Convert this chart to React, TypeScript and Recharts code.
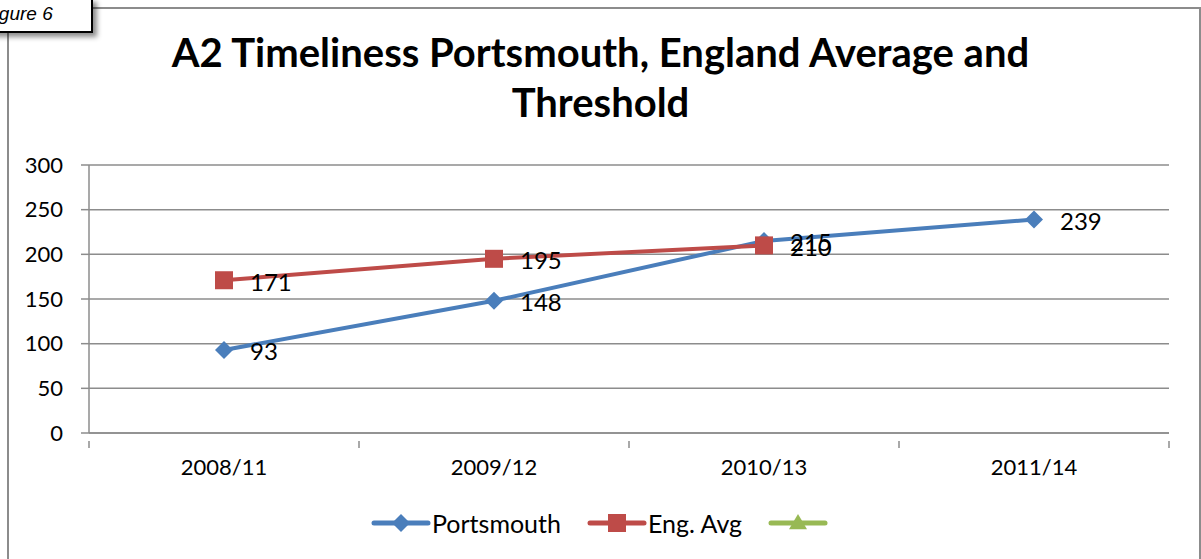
import type { FC } from "react";
import {
  LineChart,
  Line,
  XAxis,
  YAxis,
  CartesianGrid,
  Legend,
  LabelList,
} from "recharts";

const years = ["2008/11", "2009/12", "2010/13", "2011/14"];
const portsmouth = [93, 148, 215, 239];
const engAvg: (number | null)[] = [171, 195, 210, null];
const threshold: (number | null)[] = [null, null, null, null];
const yTicks = [0, 50, 100, 150, 200, 250, 300];

const BLUE = "#4A7EBB";
const RED = "#BE4B48";
const GREEN = "#98B954";
const GRID = "#8c8c8c";
const FONT = "Lato, 'Open Sans', sans-serif";

const data = years.map((year, i) => ({
  year,
  portsmouth: portsmouth[i],
  engAvg: engAvg[i],
  threshold: threshold[i],
}));

const Diamond: FC<any> = ({ cx, cy, r = 9, fill }) =>
  cx == null || cy == null ? null : (
    <path
      d={`M${cx},${cy - r} L${cx + r},${cy} L${cx},${cy + r} L${cx - r},${cy} Z`}
      fill={fill}
    />
  );

const Square: FC<any> = ({ cx, cy, r = 9, fill }) =>
  cx == null || cy == null ? null : (
    <rect x={cx - r} y={cy - r} width={r * 2} height={r * 2} fill={fill} />
  );

const Triangle: FC<any> = ({ cx, cy, r = 9, fill }) => (
  <path d={`M${cx},${cy - r} L${cx + r},${cy + r * 0.7} L${cx - r},${cy + r * 0.7} Z`} fill={fill} />
);

const ValueLabel: FC<any> = ({ x, y, value }) =>
  value == null ? null : (
    <text x={x + 26} y={y + 1} fontSize={24} fontFamily={FONT} fill="#000" dominantBaseline="central">
      {value}
    </text>
  );

// category label plus the band-boundary tick marks Excel draws between categories
const YearTick: FC<any> = ({ x, y, payload, index, visibleTicksCount }) => {
  const half = payload.offset ?? 0;
  const last = index === visibleTicksCount - 1;
  return (
    <g>
      <line x1={x - half} y1={y} x2={x - half} y2={y + 7} stroke={GRID} strokeWidth={1.5} />
      {last && <line x1={x + half} y1={y} x2={x + half} y2={y + 7} stroke={GRID} strokeWidth={1.5} />}
      <text x={x} y={y + 34} textAnchor="middle" fontSize={22} fontFamily={FONT} fill="#000">
        {payload.value}
      </text>
    </g>
  );
};

const legendItems = [
  { name: "Portsmouth", color: BLUE, Marker: Diamond },
  { name: "Eng. Avg", color: RED, Marker: Square },
  { name: "", color: GREEN, Marker: Triangle },
];

const LegendContent: FC = () => (
  <div style={{ display: "flex", justifyContent: "center", alignItems: "center", fontFamily: FONT, fontSize: 25, paddingLeft: 24 }}>
    {legendItems.map(({ name, color, Marker }) => (
      <div key={color} style={{ display: "flex", alignItems: "center", marginRight: 26 }}>
        <svg width={60} height={24}>
          <line x1={3} y1={12} x2={57} y2={12} stroke={color} strokeWidth={5} strokeLinecap="round" />
          <Marker cx={30} cy={12} r={9} fill={color} />
        </svg>
        {name && <span style={{ marginLeft: 1 }}>{name}</span>}
      </div>
    ))}
  </div>
);

export default function App() {
  return (
    <div style={{ position: "fixed", left: 0, top: 0, width: 1201, height: 559, overflow: "hidden", background: "#fff" }}>
      <div style={{ position: "absolute", left: 7, top: 7, width: 1190, height: 560, border: "2px solid #8c8c8c" }} />
      <div
        style={{
          position: "absolute",
          left: 0,
          top: 27,
          width: 1201,
          textAlign: "center",
          fontFamily: FONT,
          fontWeight: 700,
          fontSize: 40,
          lineHeight: "50px",
          color: "#000",
        }}
      >
        A2 Timeliness Portsmouth, England Average and
        <br />
        Threshold
      </div>
      <div style={{ position: "absolute", left: 0, top: 0 }}>
        <LineChart width={1201} height={559} data={data} margin={{ top: 165, right: 32, left: 0, bottom: 0 }}>
          <CartesianGrid vertical={false} stroke={GRID} strokeWidth={1.5} />
          <XAxis
            dataKey="year"
            scale="band"
            height={126}
            axisLine={{ stroke: GRID, strokeWidth: 1.5 }}
            tickLine={false}
            interval={0}
            tick={<YearTick />}
          />
          <YAxis
            width={89}
            domain={[0, 300]}
            ticks={yTicks}
            interval={0}
            axisLine={{ stroke: GRID, strokeWidth: 1.5 }}
            tickSize={8}
            tickLine={{ stroke: GRID, strokeWidth: 1.5 }}
            tick={{ fontSize: 22, fontFamily: FONT, fill: "#000", dx: -16 }}
          />
          <Legend verticalAlign="middle" content={<LegendContent />} wrapperStyle={{ top: 508, left: 0, width: 1201 }} />
          <Line
            dataKey="portsmouth"
            name="Portsmouth"
            stroke={BLUE}
            strokeWidth={4}
            dot={<Diamond r={9} fill={BLUE} />}
            isAnimationActive={false}
          >
            <LabelList dataKey="portsmouth" content={<ValueLabel />} />
          </Line>
          <Line
            dataKey="engAvg"
            name="Eng. Avg"
            stroke={RED}
            strokeWidth={4}
            dot={<Square r={9} fill={RED} />}
            isAnimationActive={false}
          >
            <LabelList dataKey="engAvg" content={<ValueLabel />} />
          </Line>
          <Line dataKey="threshold" name="" stroke={GREEN} strokeWidth={4} dot={false} isAnimationActive={false} />
        </LineChart>
      </div>
      <div
        style={{
          position: "absolute",
          left: -40,
          top: -2,
          width: 133,
          height: 35,
          border: "2px solid #000",
          background: "#fff",
          boxShadow: "4px 4px 5px rgba(0,0,0,0.45)",
          fontFamily: "'Liberation Sans', Arial, sans-serif",
          fontStyle: "italic",
          fontSize: 19,
          lineHeight: "28px",
          paddingLeft: 21,
          boxSizing: "border-box",
        }}
      >
        Figure 6
      </div>
    </div>
  );
}
